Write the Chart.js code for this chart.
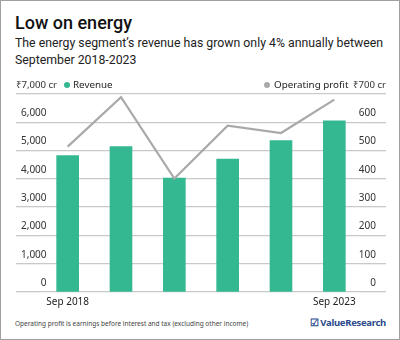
<!DOCTYPE html>
<html>
<head>
<meta charset="utf-8">
<script src="https://cdn.jsdelivr.net/npm/chart.js@4"></script>
<style>
  html, body { margin: 0; padding: 0; background: #fff; }
  body { width: 400px; height: 340px; overflow: hidden; font-family: "Noto Sans", sans-serif; }
  #card { position: relative; width: 398px; height: 338px; border: 1px solid #a0a0a0; box-sizing: content-box; }
  #title { position: absolute; left: 14px; top: 11px; font-family: Roboto, sans-serif; font-size: 18px; font-weight: 500; color: #111; }
  #sub { position: absolute; left: 14px; top: 34px; width: 384px; font-family: Roboto, sans-serif; font-size: 12.3px; line-height: 17px; color: #222; }
  #wrap { position: absolute; left: 0; top: 72px; width: 400px; height: 240px; }
  #note { position: absolute; left: 14px; top: 318px; font-size: 6.5px; color: #444; }
  #logo { position: absolute; right: 13px; top: 315px; font-size: 9.5px; font-weight: 700; color: #2b4a8c; letter-spacing: -0.3px; }
</style>
</head>
<body>
<div id="card">
  <div id="title">Low on energy</div>
  <div id="sub">The energy segment’s revenue has grown only 4% annually between September 2018-2023</div>
  <div id="wrap"><canvas id="chart"></canvas></div>
  <div id="note">Operating profit is earnings before interest and tax (excluding other income)</div>
  <div id="logo">☑ ValueResearch</div>
</div>
<script>
let categories = ["Sep 2018", "Sep 2019", "Sep 2020", "Sep 2021", "Sep 2022", "Sep 2023"];
let xLabels = ["Sep 2018", "", "", "", "", "Sep 2023"];
let revenue = [4820, 5140, 4030, 4700, 5350, 6050];
let operatingProfit = [514, 689, 401, 588, 562, 680];
let leftTicks = ["0", "1,000", "2,000", "3,000", "4,000", "5,000", "6,000", ""];
let rightTicks = ["0", "100", "200", "300", "400", "500", "600", ""];

const green = "#33b891";
const grey = "#a9a9a9";
const gridColor = "#c9c9c9";

// top unit labels and the two legend entries
const topLabels = {
    id: "topLabels",
    afterDraw(chart) {
        let ctx = chart.ctx;
        let y = chart.chartArea.top - 9;
        ctx.save();
        ctx.textBaseline = "middle";
        ctx.font = "9.6px 'Noto Sans'";
        ctx.fillStyle = "#333";
        ctx.textAlign = "left";
        ctx.fillText("₹7,000 cr", 15, y);
        ctx.textAlign = "right";
        ctx.fillText("₹700 cr", 385, y);

        ctx.font = "9.8px 'Noto Sans'";
        ctx.textAlign = "left";
        ctx.beginPath();
        ctx.fillStyle = green;
        ctx.arc(66, y, 3, 0, Math.PI * 2);
        ctx.fill();
        ctx.fillStyle = "#222";
        ctx.fillText("Revenue", 72, y);

        ctx.beginPath();
        ctx.fillStyle = grey;
        ctx.arc(266, y, 3, 0, Math.PI * 2);
        ctx.fill();
        ctx.fillStyle = "#222";
        ctx.fillText("Operating profit", 273, y);
        ctx.restore();
    }
};

const ctx = document.getElementById("chart").getContext("2d");

new Chart(ctx, {
    type: "bar",
    data: {
        labels: categories,
        datasets: [
            {
                type: "line",
                label: "Operating profit",
                data: operatingProfit,
                yAxisID: "y1",
                borderColor: grey,
                borderWidth: 2.2,
                pointRadius: 0,
                tension: 0,
                order: 0
            },
            {
                label: "Revenue",
                data: revenue,
                yAxisID: "y",
                backgroundColor: green,
                barThickness: 22,
                order: 1
            }
        ]
    },
    options: {
        responsive: true,
        maintainAspectRatio: false,
        animation: false,
        layout: { padding: { left: 15, right: 15, top: 18, bottom: 0 } },
        plugins: {
            legend: { display: false },
            tooltip: { enabled: false }
        },
        scales: {
            x: {
                grid: { display: false, drawTicks: false },
                border: { display: false },
                ticks: {
                    color: "#222",
                    font: { family: "Noto Sans", size: 10 },
                    padding: 4,
                    maxRotation: 0,
                    autoSkip: false,
                    callback: (v, i) => xLabels[i]
                }
            },
            y: {
                position: "left",
                min: 0,
                max: 7000,
                afterFit: s => { s.width = 25; },
                grid: { color: gridColor, lineWidth: 1.3, drawTicks: true, tickLength: 25 },
                border: { display: false },
                ticks: {
                    stepSize: 1000,
                    mirror: true,
                    crossAlign: "far",
                    padding: -20,
                    labelOffset: -9,
                    color: "#333",
                    font: { family: "Noto Sans", size: 10 },
                    callback: (v, i) => leftTicks[i]
                }
            },
            y1: {
                position: "right",
                min: 0,
                max: 700,
                afterFit: s => { s.width = 25; },
                grid: { color: gridColor, lineWidth: 1.3, drawOnChartArea: false, drawTicks: true, tickLength: 25 },
                border: { display: false },
                ticks: {
                    stepSize: 100,
                    mirror: true,
                    padding: 15,
                    labelOffset: -9,
                    color: "#333",
                    font: { family: "Noto Sans", size: 10 },
                    callback: (v, i) => rightTicks[i]
                }
            }
        }
    },
    plugins: [topLabels]
});
</script>
</body>
</html>
